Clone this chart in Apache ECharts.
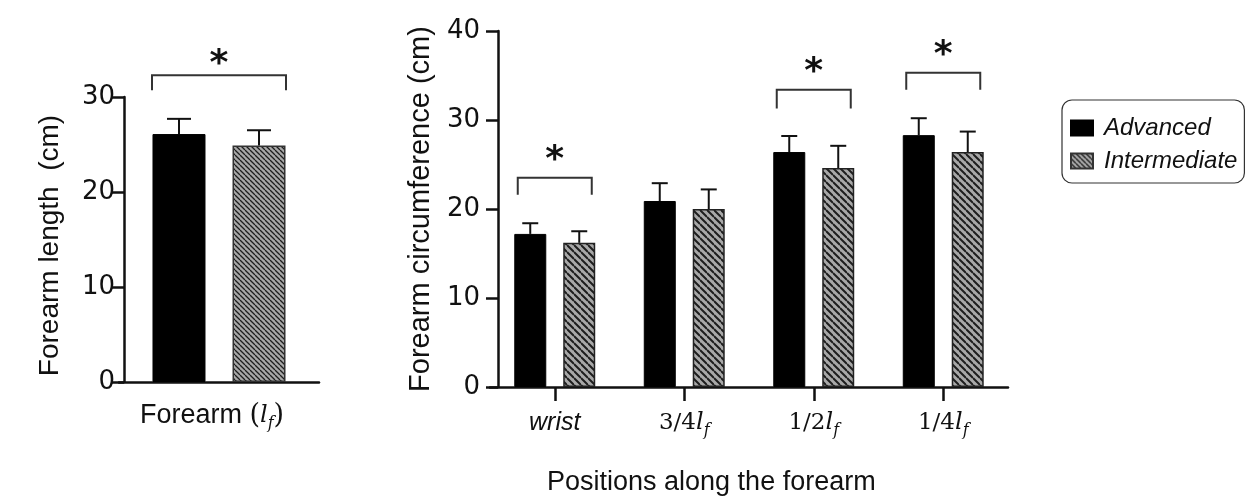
<!DOCTYPE html>
<html>
	<head>
		<meta charset="utf-8" />
		<title>Forearm</title>
		<style type="text/css">
			body,
			html,
			#main {
				width: 100%;
				height: 100%;
				overflow: hidden;
				margin: 0;
				background: #fff;
			}
		</style>
	</head>
	<body>
		<div id="main"></div>
		<script src="https://cdn.jsdelivr.net/npm/echarts@6/dist/echarts.min.js"></script>
		<script>
			// forearm length (left panel)
			var lengthCategory = ['Forearm'];
			var lengthAdvanced = [26.1];
			var lengthAdvancedSd = [1.6];
			var lengthIntermediate = [24.9];
			var lengthIntermediateSd = [1.6];
			var lengthSig = [[0, 32.3, 30.7]]; // [category, bracket top, bracket foot]

			// circumference (right panel)
			var positions = ['wrist', '3/4', '1/2', '1/4'];
			var circAdvanced = [17.2, 20.9, 26.4, 28.3];
			var circAdvancedSd = [1.2, 2.0, 1.8, 1.9];
			var circIntermediate = [16.2, 20.0, 24.6, 26.4];
			var circIntermediateSd = [1.3, 2.2, 2.5, 2.3];
			var circSig = [[0, 23.5, 21.6], [2, 33.4, 31.3], [3, 35.3, 33.4]];

			var seriesNames = ['Advanced', 'Intermediate'];

			// hatch pattern "\\\\" on grey
			function hatch(size, lw) {
				var c = document.createElement('canvas');
				c.width = c.height = size;
				var ctx = c.getContext('2d');
				ctx.fillStyle = '#a8a8a8';
				ctx.fillRect(0, 0, size, size);
				ctx.strokeStyle = '#1e1e1e';
				ctx.lineWidth = lw;
				ctx.beginPath();
				for (var k = -1; k <= 1; k++) {
					ctx.moveTo(0, k * size);
					ctx.lineTo(size, size + k * size);
				}
				ctx.stroke();
				return { image: c, repeat: 'repeat' };
			}

			var TXT = '#111';
			var sans = 'Liberation Sans, Arial, sans-serif';
			var wide = 'DejaVu Sans, sans-serif';
			var serif = 'DejaVu Serif, serif';

			function zip(vals, sds) {
				return vals.map(function (v, i) {
					return [i, v, sds[i]];
				});
			}

			function errorBar(offset, cap) {
				return function (params, api) {
					var base = api.coord([api.value(0), api.value(1)]);
					var top = api.coord([api.value(0), api.value(1) + api.value(2)]);
					var x = base[0] + offset;
					var st = { stroke: '#111', lineWidth: 2 };
					return {
						type: 'group',
						children: [
							{ type: 'line', shape: { x1: x, y1: base[1], x2: x, y2: top[1] }, style: st },
							{ type: 'line', shape: { x1: x - cap / 2, y1: top[1], x2: x + cap / 2, y2: top[1] }, style: st }
						]
					};
				};
			}

			function bracket(half, starGap) {
				return function (params, api) {
					var a = api.coord([api.value(0), api.value(1)]);
					var b = api.coord([api.value(0), api.value(2)]);
					var x = a[0];
					return {
						type: 'group',
						children: [
							{
								type: 'polyline',
								shape: { points: [[x - half, b[1]], [x - half, a[1]], [x + half, a[1]], [x + half, b[1]]] },
								style: { stroke: '#333', lineWidth: 2, fill: null }
							},
							{
								type: 'text',
								style: {
									text: '*',
									x: x,
									y: a[1] - starGap,
									font: 'bold 36px DejaVu Sans',
									fill: '#111',
									textAlign: 'center',
									textVerticalAlign: 'middle'
								}
							}
						]
					};
				};
			}

			var lfRich = {
				a: { fontFamily: sans, fontSize: 27, color: TXT, lineHeight: 32, verticalAlign: 'middle' },
				n: { fontFamily: serif, fontSize: 23, color: TXT, lineHeight: 32, verticalAlign: 'middle' },
				w: { fontFamily: sans, fontStyle: 'italic', fontSize: 25, color: TXT, lineHeight: 32, verticalAlign: 'middle' },
				v: { fontFamily: serif, fontStyle: 'italic', fontSize: 24, color: TXT, lineHeight: 32, verticalAlign: 'middle' },
				s: { fontFamily: serif, fontStyle: 'italic', fontSize: 16, color: TXT, lineHeight: 18, verticalAlign: 'bottom' },
				p: { fontFamily: serif, fontSize: 27, color: TXT, lineHeight: 32, verticalAlign: 'middle' }
			};

			var axisLine = { show: true, lineStyle: { color: '#111', width: 2.5 } };
			var axisTick = { show: true, length: 12, lineStyle: { color: '#111', width: 2.5 } };

			var dom = document.getElementById('main');
			var chart = echarts.init(dom);

			var option = {
				animation: false,
				title: {
					text: 'Positions along the forearm',
					left: 542,
					top: 464,
					textStyle: { fontFamily: sans, fontSize: 27, fontWeight: 'normal', color: TXT }
				},
				legend: {
					data: seriesNames,
					orient: 'vertical',
					left: 1062,
					top: 100,
					padding: [16, 7, 10, 8],
					itemGap: 9,
					itemWidth: 22,
					itemHeight: 15,
					icon: 'rect',
					borderColor: '#333',
					borderWidth: 1.2,
					borderRadius: 10,
					textStyle: { fontFamily: sans, fontSize: 24, fontStyle: 'italic', color: TXT, padding: [0, 0, 0, 6] }
				},
				grid: [
					{ left: 119, top: 97, width: 200, height: 285 },
					{ left: 490, top: 31, width: 518, height: 356 }
				],
				xAxis: [
					{
						type: 'category',
						gridIndex: 0,
						data: lengthCategory,
						axisLine: axisLine,
						axisTick: { show: false },
						axisLabel: {
							margin: 18,
							padding: [0, 14, 0, 0],
							formatter: function () {
								return '{a|Forearm }{p|(}{v|l}{s|f}{p|)}';
							},
							rich: lfRich
						}
					},
					{
						type: 'category',
						gridIndex: 1,
						data: positions,
						axisLine: axisLine,
						axisTick: { show: true, alignWithLabel: true, length: 14, lineStyle: { color: '#111', width: 2.5 } },
						axisLabel: {
							margin: 20,
							formatter: function (v) {
								if (v === 'wrist') return '{w|wrist}';
								return '{n|' + v + '}{v|l}{s|f}';
							},
							rich: lfRich
						}
					}
				],
				yAxis: [
					{
						type: 'value',
						gridIndex: 0,
						min: 0,
						max: 30,
						interval: 10,
						offset: -5,
						splitLine: { show: false },
						axisLine: axisLine,
						axisTick: axisTick,
						axisLabel: { margin: 9, fontFamily: wide, fontSize: 26, color: TXT },
						name: 'Forearm length  (cm)',
						nameLocation: 'middle',
						nameGap: 60,
						nameTextStyle: { fontFamily: sans, fontSize: 28, color: TXT, padding: [0, 12, 0, 0] }
					},
					{
						type: 'value',
						gridIndex: 1,
						min: 0,
						max: 40,
						interval: 10,
						offset: -8,
						splitLine: { show: false },
						axisLine: axisLine,
						axisTick: axisTick,
						axisLabel: { margin: 18, fontFamily: wide, fontSize: 26, color: TXT },
						name: 'Forearm circumference (cm)',
						nameLocation: 'middle',
						nameGap: 63,
						nameTextStyle: { fontFamily: sans, fontSize: 29, color: TXT }
					}
				],
				series: [
					{
						name: seriesNames[0],
						type: 'bar',
						xAxisIndex: 0,
						yAxisIndex: 0,
						data: lengthAdvanced,
						barWidth: 53,
						barGap: '51%',
						itemStyle: { color: '#000', borderColor: '#000', borderWidth: 1 }
					},
					{
						name: seriesNames[1],
						type: 'bar',
						xAxisIndex: 0,
						yAxisIndex: 0,
						data: lengthIntermediate,
						barWidth: 53,
						barGap: '51%',
						itemStyle: { color: hatch(5, 1.3), borderColor: '#333', borderWidth: 1.5 }
					},
					{
						name: seriesNames[0],
						type: 'bar',
						xAxisIndex: 1,
						yAxisIndex: 1,
						data: circAdvanced,
						barWidth: 32,
						barGap: '53%',
						itemStyle: { color: '#000', borderColor: '#000', borderWidth: 1 }
					},
					{
						name: seriesNames[1],
						type: 'bar',
						xAxisIndex: 1,
						yAxisIndex: 1,
						data: circIntermediate,
						barWidth: 32,
						barGap: '53%',
						itemStyle: { color: hatch(7, 2), borderColor: '#222', borderWidth: 1.5 }
					},
					{
						type: 'custom',
						xAxisIndex: 0,
						yAxisIndex: 0,
						data: zip(lengthAdvanced, lengthAdvancedSd),
						renderItem: errorBar(-40, 24),
						z: 3
					},
					{
						type: 'custom',
						xAxisIndex: 0,
						yAxisIndex: 0,
						data: zip(lengthIntermediate, lengthIntermediateSd),
						renderItem: errorBar(40, 24),
						z: 3
					},
					{
						type: 'custom',
						xAxisIndex: 1,
						yAxisIndex: 1,
						data: zip(circAdvanced, circAdvancedSd),
						renderItem: errorBar(-24.5, 16),
						z: 3
					},
					{
						type: 'custom',
						xAxisIndex: 1,
						yAxisIndex: 1,
						data: zip(circIntermediate, circIntermediateSd),
						renderItem: errorBar(24.5, 16),
						z: 3
					},
					{
						type: 'custom',
						xAxisIndex: 0,
						yAxisIndex: 0,
						data: lengthSig,
						renderItem: bracket(67, 11),
						z: 3
					},
					{
						type: 'custom',
						xAxisIndex: 1,
						yAxisIndex: 1,
						data: circSig,
						renderItem: bracket(37, 17),
						z: 3
					}
				]
			};
			chart.setOption(option);
		</script>
	</body>
</html>
